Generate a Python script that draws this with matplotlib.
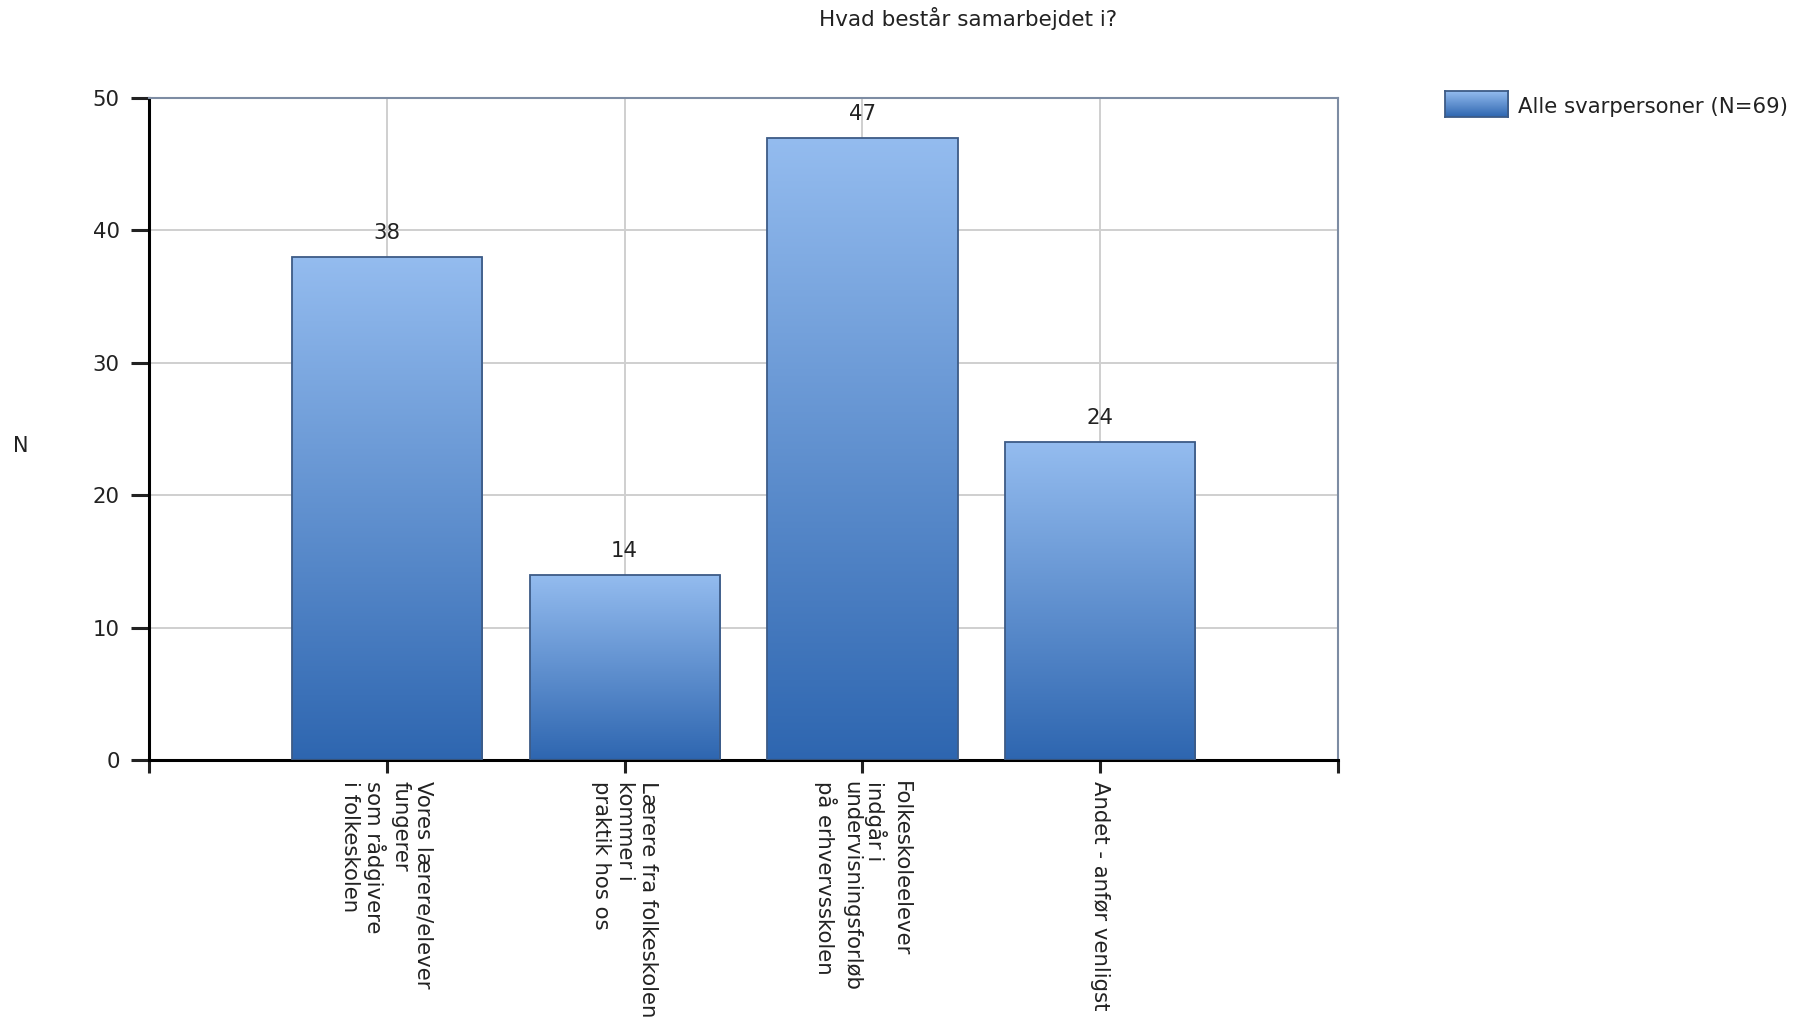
import numpy as np
import matplotlib
matplotlib.use("Agg")
import matplotlib.pyplot as plt
from matplotlib.colors import LinearSegmentedColormap

title = "Hvad består samarbejdet i?"
categories = [
    "Vores lærere/elever\nfungerer\nsom rådgivere\ni folkeskolen",
    "Lærere fra folkeskolen\nkommer i\npraktik hos os",
    "Folkeskoleelever\nindgår i\nundervisningsforløb\npå erhvervsskolen",
    "Andet - anfør venligst",
]
values = [38, 14, 47, 24]
series_name = "Alle svarpersoner (N=69)"
y_ticks = [0, 10, 20, 30, 40, 50]

plt.rcParams['font.family'] = ['DejaVu Sans']

top_col = "#94bcef"
bot_col = "#2e66b0"
edge_col = "#3d5b86"
cmap = LinearSegmentedColormap.from_list("barfade", [bot_col, top_col])
grad = np.linspace(0, 1, 256).reshape(-1, 1)

fig = plt.figure(figsize=(18, 10.21), dpi=100)
ax = fig.add_axes([0.0828, 0.2556, 0.6606, 0.6484])

xpos = np.arange(1, len(values) + 1)
bars = ax.bar(xpos, values, width=0.8, facecolor="none", edgecolor=edge_col,
              linewidth=1.3, zorder=3)

# gradient fill for each bar, clipped to the bar outline
for b in bars:
    x0, w, h = b.get_x(), b.get_width(), b.get_height()
    im = ax.imshow(grad, cmap=cmap, origin="lower", aspect="auto",
                   extent=[x0, x0 + w, 0, h], zorder=2)
    im.set_clip_path(b)

for x, v in zip(xpos, values):
    ax.annotate(str(v), (x, v), xytext=(0, 13), textcoords="offset points",
                ha="center", va="baseline", fontsize=15.3, color="#222222")

ax.set_xlim(0, len(values) + 1)
ax.set_ylim(0, 50)
ax.set_yticks(y_ticks)
ax.set_xticks(np.arange(0, len(values) + 2))
ax.set_xticklabels([""] + categories + [""], rotation=270, ha="center",
                   va="top", multialignment="left", fontsize=15.3)
ax.tick_params(axis="y", direction="out", length=13, width=2.2, pad=8,
               labelsize=15.3, colors="#222222")
ax.tick_params(axis="x", direction="out", length=9, width=2.2, pad=6,
               colors="#222222")

ax.grid(True, color="#cfcfcf", linewidth=1.4, zorder=0)
ax.set_axisbelow(True)

for side in ["left", "bottom"]:
    ax.spines[side].set_color("black")
    ax.spines[side].set_linewidth(2.2)
for side in ["top", "right"]:
    ax.spines[side].set_color("#7d8ca3")
    ax.spines[side].set_linewidth(1.5)

fig.text(0.538, 0.982, title, ha="center", va="center", fontsize=15.5,
         color="#222222")
fig.text(0.0117, 0.563, "N", ha="center", va="center", fontsize=15,
         color="#222222")

# legend: gradient swatch + label
lax = fig.add_axes([1445 / 1800, 1 - 117 / 1021, 63 / 1800, 26 / 1021])
lax.imshow(grad, cmap=cmap, origin="lower", aspect="auto", extent=[0, 1, 0, 1])
lax.set_xticks([])
lax.set_yticks([])
for s in lax.spines.values():
    s.set_color(edge_col)
    s.set_linewidth(1.3)
fig.text(1518 / 1800, 1 - 107 / 1021, series_name, ha="left", va="center",
         fontsize=15.3, color="#222222")

fig.savefig("out.png", dpi=100)
